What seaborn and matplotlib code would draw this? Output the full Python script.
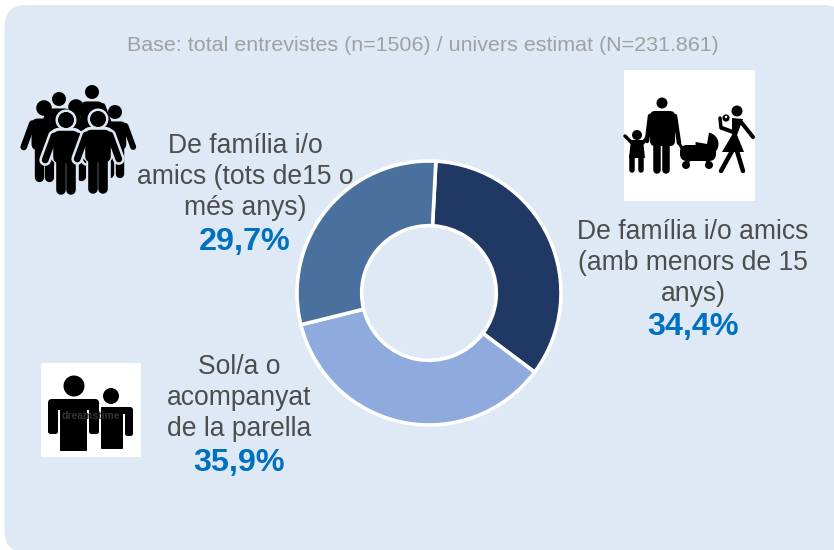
import matplotlib
matplotlib.use("Agg")
import matplotlib.pyplot as plt
import seaborn as sns
from matplotlib.patches import Circle, FancyBboxPatch, Rectangle, Polygon, Wedge

sns.set_theme(style="white")
plt.rcParams['font.family'] = ['Liberation Sans', 'DejaVu Sans']

# dades
categories = ["De família i/o amics (amb menors de 15 anys)",
              "Sol/a o acompanyat de la parella",
              "De família i/o amics (tots de15 o més anys)"]
values = [34.4, 35.9, 29.7]
colors = ["#203864", "#8FAADC", "#4A719D"]
title = "Base: total entrevistes (n=1506) / univers estimat (N=231.861)"
labels_right = ["De família i/o amics", "(amb menors de 15", "anys)"]
labels_top = ["De família i/o", "amics (tots de15 o", "més anys)"]
labels_low = ["Sol/a o", "acompanyat", "de la parella"]
pct_right = "34,4%"
pct_top = "29,7%"
pct_low = "35,9%"

W, H = 834, 550
BG = "#DEE9F5"
GREY = "#4D4D4D"
BLUE = "#0070C0"
PX = 0.72  # px a punts

fig = plt.figure(figsize=(W / 100, H / 100), dpi=100, facecolor="white")

# capa de fons en pixels
bg = fig.add_axes([0, 0, 1, 1], zorder=0)
bg.set_xlim(0, W)
bg.set_ylim(H, 0)
bg.axis("off")
bg.add_patch(FancyBboxPatch((4.5, 5), 841, 548, boxstyle="round,pad=0,rounding_size=22",
                            fc=BG, ec="none"))

# donut
cx, cy, r = 429, 293, 132
ax = fig.add_axes([(cx - r) / W, 1 - (cy + r) / H, 2 * r / W, 2 * r / H], zorder=1)
ax.pie(values, colors=colors, startangle=87, counterclock=False, radius=1,
       wedgeprops=dict(width=0.49, edgecolor="white", linewidth=3.6 * PX))
ax.set_xlim(-1, 1)
ax.set_ylim(-1, 1)
ax.patch.set_alpha(0)
for w in ax.patches:
    w.set_clip_on(False)

# capa de text i icones
top = fig.add_axes([0, 0, 1, 1], zorder=2)
top.set_xlim(0, W)
top.set_ylim(H, 0)
top.axis("off")
top.patch.set_alpha(0)

top.text(423, 45.5, title, ha="center", va="center", fontsize=15.45, color="#A0A0A0")


def block(x, ys, lines, pct, ypct):
    for y, s in zip(ys, lines):
        top.text(x, y, s, ha="center", va="center", fontsize=19.1, color=GREY)
    top.text(x, ypct, pct, ha="center", va="center", fontsize=23.3, color=BLUE, fontweight="bold")


block(245, [146, 177, 208], labels_top, pct_top, 242)
block(693, [232, 263, 294], labels_right, pct_right, 327)
block(239, [367, 398, 429], labels_low, pct_low, 463)


def limb(x0, y0, x1, y1, w, color="black", z=5):
    # w en pixels
    top.plot([x0, x1], [y0, y1], color=color, lw=w * PX, solid_capstyle="round", zorder=z)


def disc(x, y, rad, color="black", z=5):
    top.add_patch(Circle((x, y), rad, fc=color, ec="none", zorder=z))


def box(x0, y0, x1, y1, rad=3, color="black", z=5):
    top.add_patch(FancyBboxPatch((x0, y0), x1 - x0, y1 - y0,
                                 boxstyle=f"round,pad=0,rounding_size={rad}",
                                 fc=color, ec="none", zorder=z))


def person(x, y, s, outline=None, z=5):
    # x,y = centre del cap, s = radi del cap
    arm = 0.85 * s
    leg = 1.2 * s
    if outline:
        e = 2.5
        disc(x, y, s + e, outline, z)
        box(x - 1.6 * s - e, y + 1.3 * s - e, x + 1.6 * s + e, y + 5.4 * s, s, outline, z)
        for d in (-1, 1):
            limb(x + d * 1.5 * s, y + 2 * s, x + d * 2.6 * s, y + 5 * s, arm + 2 * e, outline, z)
            limb(x + d * 0.65 * s, y + 5 * s, x + d * 0.65 * s, y + 9 * s, leg + 2 * e, outline, z)
    disc(x, y, s, "black", z + 0.1)
    box(x - 1.6 * s, y + 1.35 * s, x + 1.6 * s, y + 5.4 * s, 0.8 * s, "black", z + 0.1)
    for d in (-1, 1):
        limb(x + d * 1.5 * s, y + 2 * s, x + d * 2.6 * s, y + 5 * s, arm, "black", z + 0.1)
        limb(x + d * 0.65 * s, y + 5 * s, x + d * 0.65 * s, y + 8.8 * s, leg, "black", z + 0.1)


# icona grup
person(92, 92, 7, z=3)
person(59, 99, 7, z=3)
person(44, 108, 7.8, z=3.2)
person(115, 112, 7, z=3.2)
person(76, 107, 7.8, z=3.4)
person(66, 120, 8, outline=BG, z=4)
person(98, 119, 8, outline=BG, z=4.4)

# icona familia
top.add_patch(Rectangle((624, 70), 131, 131, fc="white", ec="none", zorder=3))
disc(662, 103, 5.5)
box(650, 111, 675, 146, 5)
limb(650, 116, 647, 141, 4.5)
limb(675, 116, 679, 143, 4.5)
limb(657, 140, 657, 170, 7.5)
limb(666, 140, 666, 170, 7.5)
# nena
disc(637, 135, 5)
top.add_patch(Polygon([[631, 140], [643, 140], [645, 158], [629, 158]], fc="black", ec="none", zorder=5))
limb(632, 143, 625, 136, 3.5)
limb(643, 143, 650, 133, 3.5)
limb(632.5, 156, 632.5, 170, 5.5)
limb(641, 156, 641, 170, 5.5)
# cotxet
top.add_patch(Wedge((707, 144), 11.5, -80, 190, fc="black", ec="none", zorder=5))
box(680, 145, 716, 161, 7)
limb(679, 143, 684, 152, 3)
limb(690, 160, 687, 164, 2)
limb(706, 160, 709, 164, 2)
disc(686, 165, 4)
disc(709, 165, 4)
# mare
disc(737, 111, 5.5)
top.add_patch(Polygon([[732, 118], [743, 119], [737, 135], [744, 152], [722, 152], [732, 135]],
                      fc="black", ec="none", zorder=5))
limb(741, 122, 753, 137, 4)
limb(733, 132, 722, 128, 4)
limb(721, 128, 720, 118, 3.5)
limb(732, 151, 721, 171, 4.5)
limb(737, 151, 743, 171, 4.5)
disc(726, 118, 3.6)
disc(726, 117, 1.2, "white", 6)

# icona parella
top.add_patch(Rectangle((41, 363), 100, 94, fc="white", ec="none", zorder=3))
disc(74, 386, 10.5)
disc(111, 396, 8)
box(101, 407, 123, 449, 1)
box(110, 407, 133, 414, 3)
box(125, 408, 133, 436, 2.5)
box(48, 399, 99, 410, 4, z=5.2)
box(60, 405, 87, 451, 0.5, z=5.2)
box(48, 402, 58, 434, 2.5, z=5.2)
box(89, 402, 99, 434, 2.5, z=5.2)
top.text(91, 416, "dreamstime", ha="center", va="center", fontsize=7.5, color="#333333",
         fontweight="bold", zorder=6)

fig.savefig("out.png", dpi=100, facecolor="white")
